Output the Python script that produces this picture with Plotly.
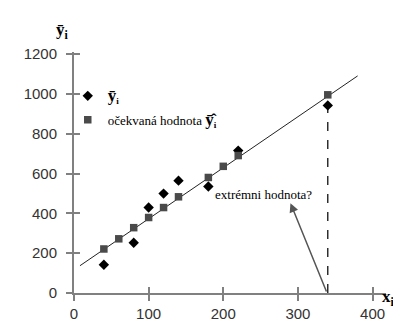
import plotly.graph_objects as go

# Data
x_obs = [40, 80, 100, 120, 140, 180, 220, 340]
y_obs = [142, 252, 429, 499, 564, 535, 715, 942]
x_exp = [40, 60, 80, 100, 120, 140, 180, 200, 220, 340]
y_exp = [221, 272, 328, 379, 429, 483, 580, 636, 690, 995]
line_x = [8, 380]
line_y = [137, 1090]
extreme_x = [340, 340]
extreme_y = [0, 995]
x_ticks = [0, 100, 200, 300, 400]
y_ticks = [0, 200, 400, 600, 800, 1000, 1200]

serif = "Liberation Serif, Times New Roman, serif"
sans = "Liberation Sans, Arial, sans-serif"
axis_col = "#808080"

fig = go.Figure()
fig.add_trace(go.Scatter(x=line_x, y=line_y, mode="lines",
                         line=dict(color="#222222", width=1), showlegend=False, hoverinfo="skip"))
fig.add_trace(go.Scatter(x=extreme_x, y=extreme_y, mode="lines",
                         line=dict(color="#111111", width=1.3, dash="dash"), showlegend=False))
fig.add_trace(go.Scatter(x=x_obs, y=y_obs, mode="markers",
                         marker=dict(symbol="diamond", size=8, color="black"),
                         name='<span style="font-size:17px"><b>ȳ</b></span><sub><b>i</b></sub>',
                         legendgroup="a"))
fig.add_trace(go.Scatter(x=x_exp, y=y_exp, mode="markers",
                         marker=dict(symbol="square", size=7.5, color="#4a4a4a"),
                         name='očekvaná hodnota <span style="font-size:17px"><b>ȳ\u0302</b></span><sub><b>i</b></sub>',
                         legendgroup="b"))
# invisible trace for the overlay axes (inside tick halves)
fig.add_trace(go.Scatter(x=[None], y=[None], xaxis="x2", yaxis="y2", showlegend=False))

fig.add_annotation(x=290, y=451, ax=339, ay=0, xref="x", yref="y", axref="x", ayref="y",
                   text="", showarrow=True, arrowhead=2, arrowsize=1.2, arrowwidth=1.5,
                   arrowcolor="#555555")
fig.add_annotation(x=186, y=497, xref="x", yref="y", text="extrémni hodnota?",
                   showarrow=False, xanchor="left", yanchor="middle",
                   font=dict(family=serif, size=13, color="black"))
fig.add_annotation(x=372, y=302, xref="paper", yref="paper", xanchor="left", yanchor="middle",
                   text='<b>x</b><sub><b>i</b></sub>', showarrow=False,
                   font=dict(family=serif, size=17, color="black"))
fig.add_annotation(x=46, y=22, xref="paper", yref="paper", xanchor="left", yanchor="middle",
                   text='<b>ȳ</b><sub><b>i</b></sub>', showarrow=False,
                   font=dict(family=serif, size=17, color="black"))

W, H = 401, 326
L, R, T, B = 66, 23, 44, 29
# convert paper annotations given in pixels
for a in fig.layout.annotations:
    if a.xref == "paper":
        a.x = (a.x - L) / (W - L - R)
        a.y = (H - B - a.y) / (H - T - B)

xr = [0, 418]
yr = [0, 1210]
common_tick = dict(ticklen=6, tickwidth=1.5, tickcolor=axis_col)
fig.update_layout(
    width=W, height=H, margin=dict(l=L, r=R, t=T, b=B),
    paper_bgcolor="white", plot_bgcolor="white",
    showlegend=True,
    legend=dict(x=-0.02, y=0.88, xanchor="left", yanchor="top", bgcolor="rgba(0,0,0,0)",
                font=dict(family=serif, size=13, color="black"), tracegroupgap=4),
    xaxis=dict(range=xr, tickvals=x_ticks, ticks="outside", showline=True, linecolor=axis_col,
               linewidth=2, showgrid=False, zeroline=False,
               tickfont=dict(family=sans, size=15, color="#333333"), **common_tick),
    yaxis=dict(range=yr, tickvals=y_ticks, ticks="outside", showline=True, linecolor=axis_col,
               linewidth=2, showgrid=False, zeroline=False, ticklabelstandoff=6,
               tickfont=dict(family=sans, size=15, color="#333333"), **common_tick),
    xaxis2=dict(range=xr, tickvals=x_ticks, ticks="inside", overlaying="x", showticklabels=False,
                showline=False, showgrid=False, zeroline=False, **common_tick),
    yaxis2=dict(range=yr, tickvals=y_ticks, ticks="inside", overlaying="y", showticklabels=False,
                showline=False, showgrid=False, zeroline=False, **common_tick),
)
fig.write_html("out.html")
